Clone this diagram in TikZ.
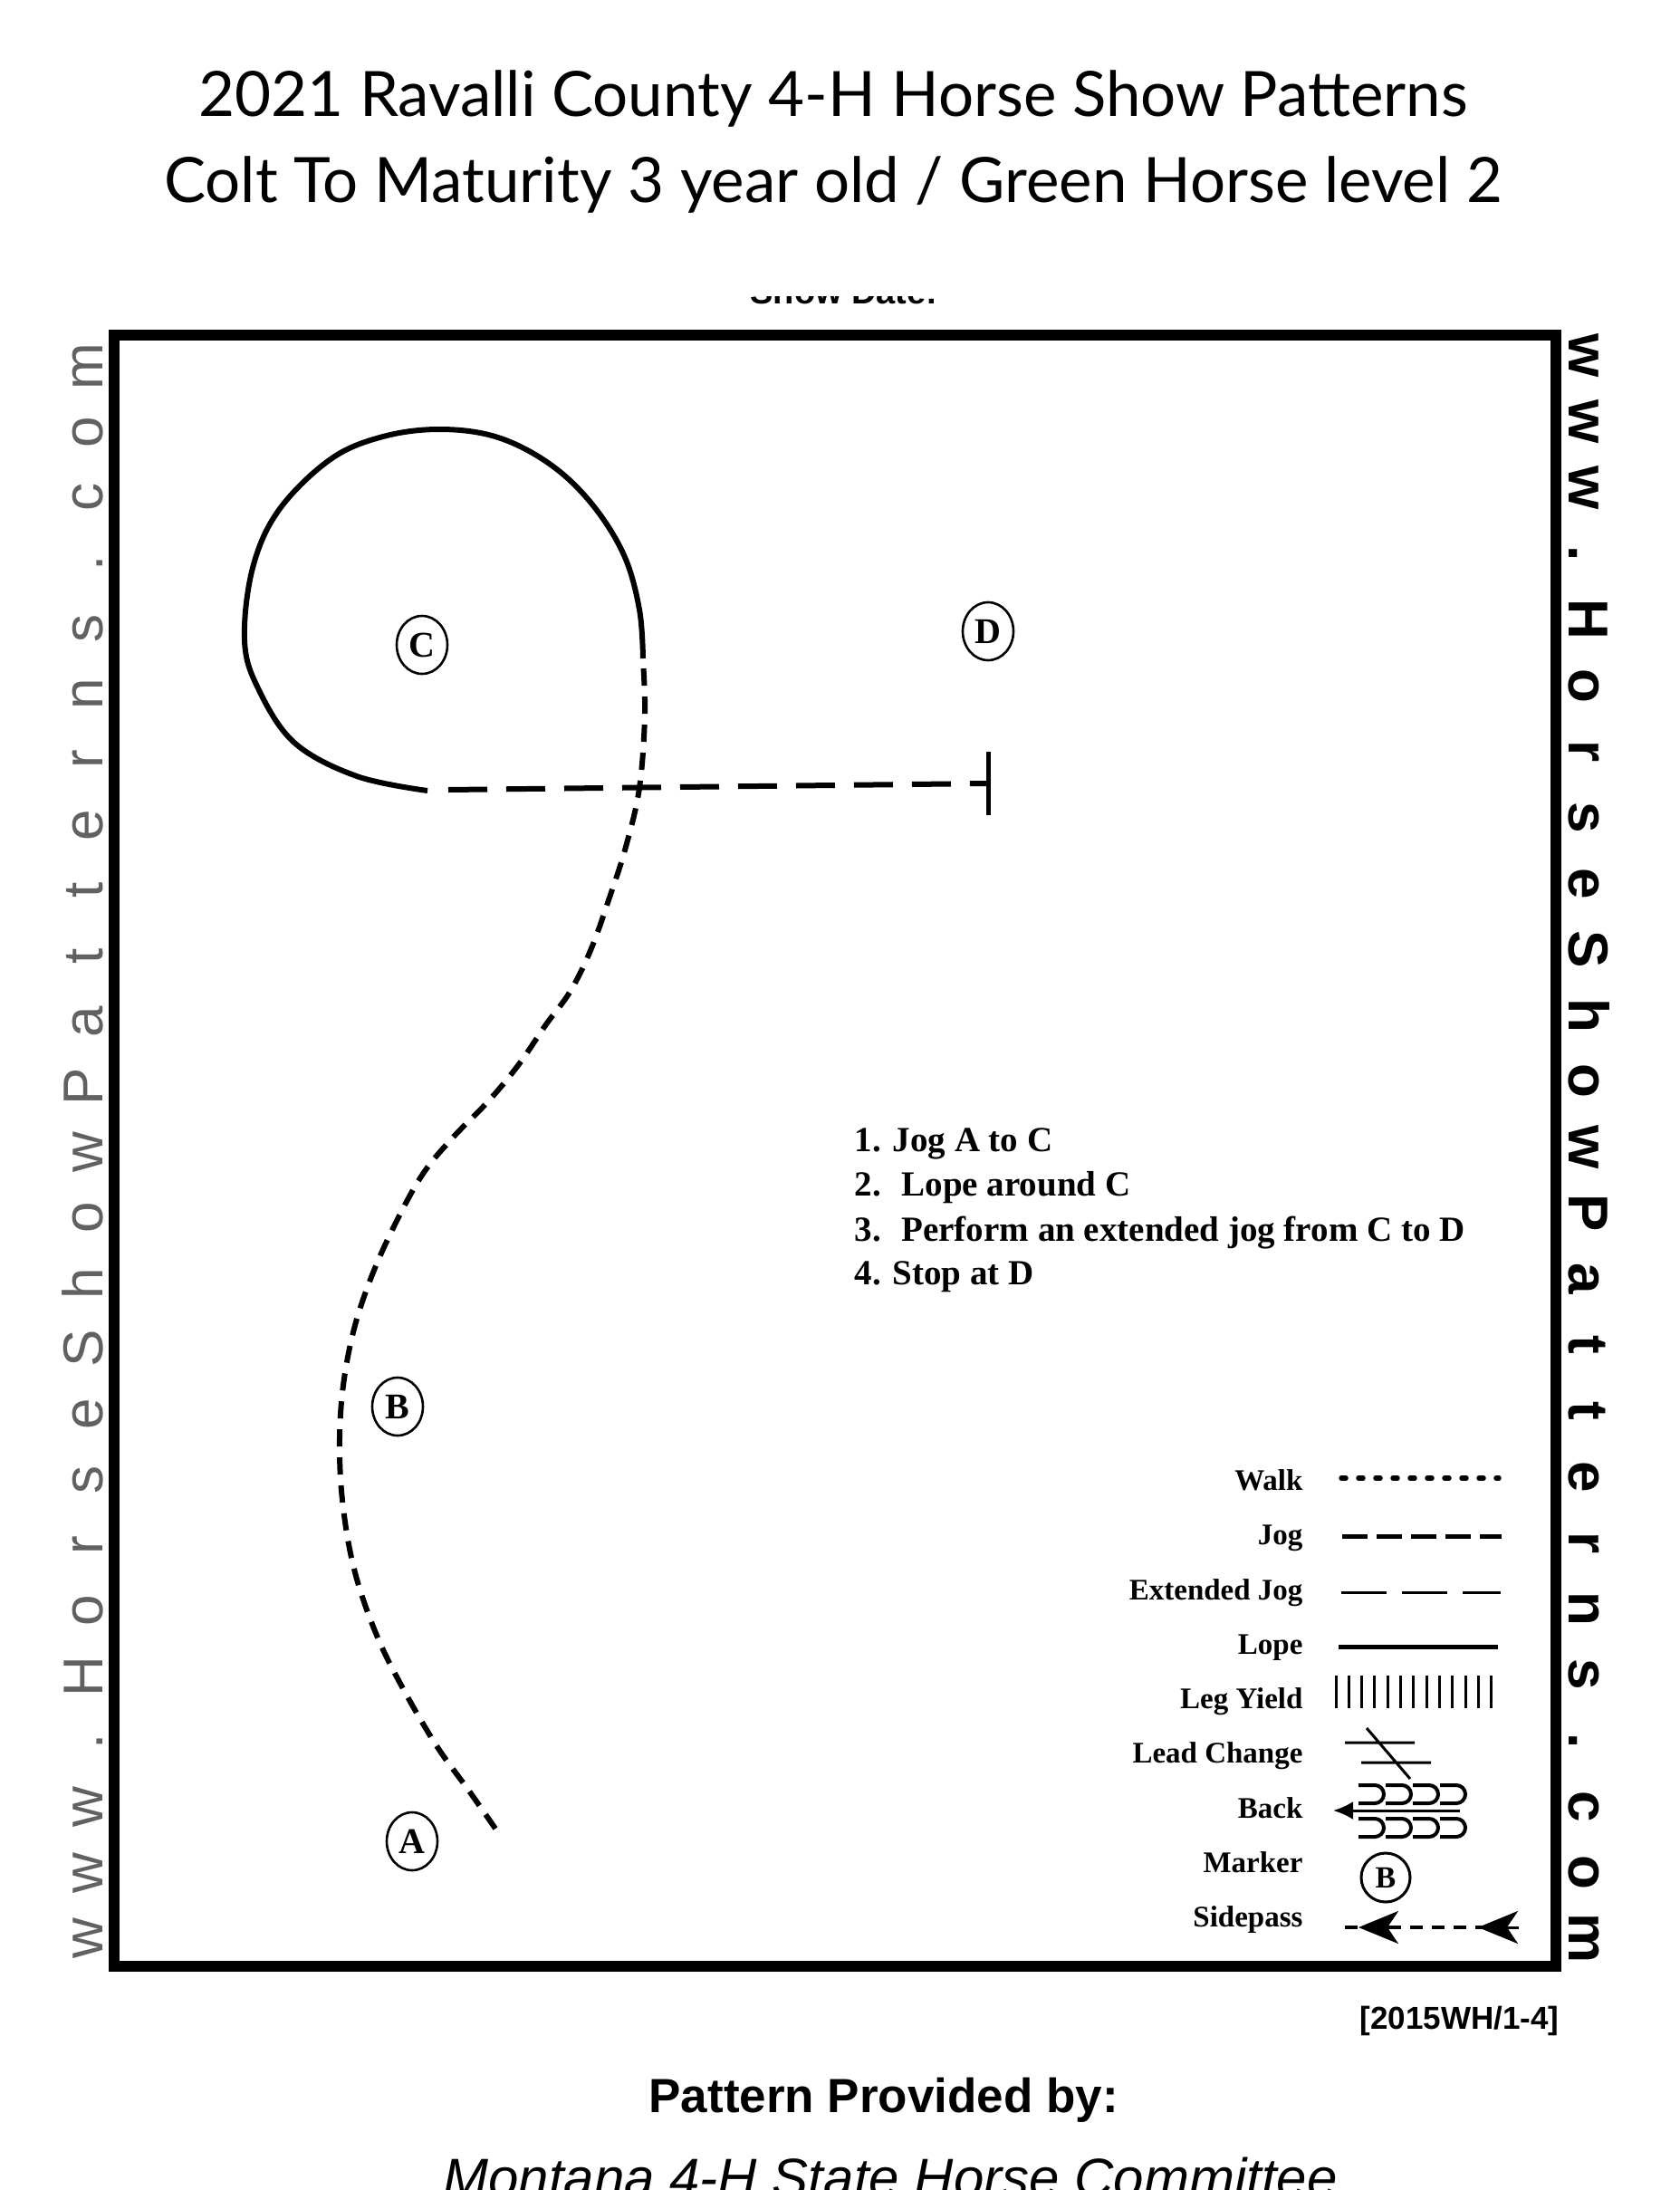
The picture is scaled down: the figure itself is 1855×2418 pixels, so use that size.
\documentclass[tikz,border=0pt]{standalone}
\usepackage{fontspec}
\setmainfont{Liberation Serif}
\setsansfont{Liberation Sans}
\newfontfamily\headfont{Lato}
\usetikzlibrary{arrows.meta,shapes.geometric}

\begin{document}
\begin{tikzpicture}[x=1pt,y=-1pt,
  mk/.style={draw,ellipse,line width=2.6pt,minimum width=56pt,minimum height=64pt,
    inner sep=0pt,font=\bfseries\fontsize{40}{40}\selectfont},
  lope/.style={line width=6pt},
  jog/.style={line width=6pt,dash pattern=on 19pt off 12pt},
  xjog/.style={line width=6pt,dash pattern=on 43pt off 21pt},
  lg/.style={anchor=base east,font=\bfseries\fontsize{33}{33}\selectfont},
  st/.style={anchor=base west,font=\bfseries\fontsize{39}{39}\selectfont},
  side/.style={anchor=base,font=\sffamily\fontsize{62}{62}\selectfont},
  hd/.style={anchor=base,font=\headfont\fontsize{69}{69}\selectfont}]
\clip (0,0) rectangle (1855,2418);
\fill[white] (0,0) rectangle (1855,2418);
\node[hd] (t1) at (920,128) {2021 Ravalli County 4-H Horse Show Patterns};
\node[hd] (t2) at (920,223) {Colt To Maturity 3 year old / Green Horse level 2};
\begin{scope}
\clip (700,327) rectangle (1100,345);
\node[anchor=base west,font=\sffamily\bfseries\fontsize{38}{38}\selectfont] (sd)
  at (825,335) {Show Date:};
\end{scope}
\draw[line width=12pt] (126,370) rectangle (1718,2171);
\foreach \ch [count=\i from 0] in {w,w,w,.,H,o,r,s,e,S,h,o,w,P,a,t,t,e,r,n,s,.,c,o,m} {
  \node[side,rotate=-90,font=\sffamily\bfseries\fontsize{62}{62}\selectfont] (r\i)
    at (1732,393+72.8*\i) {\ch};
  \node[side,rotate=90,text=black!62] (l\i) at (113,2140-72.3*\i) {\ch};
}
\node[mk] (C) at (466,712) {C};
\node[mk] (D) at (1091,697) {D};
\node[mk] (B) at (439,1553) {B};
\node[mk] (A) at (455,2033) {A};
\draw[jog] plot[smooth,tension=0.6] coordinates {(547,2019) (517,1976) (483,1929)
  (447,1868) (417,1808) (393,1740) (380,1673) (375,1606) (378,1538) (390,1471)
  (410,1410) (437,1350) (467,1296) (500,1256) (540,1215) (573,1175) (603,1131)
  (630,1094) (653,1047) (674,988) (691,935) (706,870) (712,790) (710,730)};
\draw[lope] plot[smooth,tension=0.6] coordinates {(710,727) (706,673) (689,613)
  (654,557) (608,513) (550,483) (487,474) (423,482) (365,507) (308,563) (279,627)
  (270,707) (285,760) (325,820) (394,857) (472,873)};
\coordinate (stop) at (1091,865);
\draw[xjog] (495,872) -- (stop);
\draw[line width=5pt] (1091,830) -- (1091,900);
\node[st] (s1) at (940,1271) {1. Jog A to C};
\node[st] (s2) at (940,1320) {2.~ Lope around C};
\node[st] (s3) at (940,1370) {3.~ Perform an extended jog from C to D};
\node[st] (s4) at (940,1418) {4. Stop at D};
\node[lg] (lw) at (1442,1645) {Walk};
\draw[line width=5.5pt,line cap=round,dash pattern=on 5pt off 14pt] (1481,1632) -- (1655,1632);
\node[lg] (lj) at (1442,1705) {Jog};
\draw[line width=5pt,dash pattern=on 28pt off 10pt] (1482,1696) -- (1658,1696);
\node[lg] (lx) at (1442,1766) {Extended Jog};
\draw[line width=3pt,dash pattern=on 50pt off 17pt] (1481,1758) -- (1657,1758);
\node[lg] (ll) at (1442,1826) {Lope};
\draw[line width=5pt] (1478,1818) -- (1654,1818);
\node[lg] (ly) at (1442,1886) {Leg Yield};
\foreach \k in {0,...,12} {\draw[line width=3pt] (1475+14.3*\k,1850) -- ++(0,36);}
\node[lg] (lc) at (1442,1946) {Lead Change};
\draw[line width=3pt] (1485,1924) -- (1562,1924) (1503,1946) -- (1580,1946)
  (1509,1908) -- (1557,1964);
\node[lg] (lb) at (1442,2007) {Back};
\draw[line width=3pt,-{Latex[length=22pt,width=20pt]}] (1612,1999) -- (1472,1999);
\foreach \k in {0,...,3} {
  \draw[line width=4pt] (1500+30*\k,1971) -- ++(18,0)
    arc[start angle=-90,end angle=90,radius=10] -- ++(-18,0);
  \draw[line width=4pt] (1500+30*\k,2008) -- ++(18,0)
    arc[start angle=-90,end angle=90,radius=10] -- ++(-18,0);
}
\node[lg] (lm) at (1442,2067) {Marker};
\node[draw,circle,line width=3pt,minimum size=54pt,inner sep=0pt,
  font=\bfseries\fontsize{34}{34}\selectfont] (lmk) at (1530,2073) {B};
\node[lg] (ls) at (1442,2127) {Sidepass};
\draw[line width=3.5pt,dash pattern=on 14pt off 10pt] (1485,2128) -- (1640,2128);
\draw[line width=3pt,-{Stealth[length=44pt,width=36pt,inset=12pt]}] (1545,2128) -- (1500,2128);
\draw[line width=3pt,-{Stealth[length=44pt,width=36pt,inset=12pt]}] (1677,2128) -- (1632,2128);
\node[anchor=base east,font=\sffamily\bfseries\fontsize{35}{35}\selectfont] (code)
  at (1725,2240) {[2015WH/1-4]};
\node[anchor=base west,font=\sffamily\bfseries\fontsize{53}{53}\selectfont] (prov)
  at (713,2332) {Pattern Provided by:};
\node[anchor=base west,font=\sffamily\itshape\fontsize{60}{60}\selectfont] (comm)
  at (486,2425) {Montana 4-H State Horse Committee};
\end{tikzpicture}
\end{document}
